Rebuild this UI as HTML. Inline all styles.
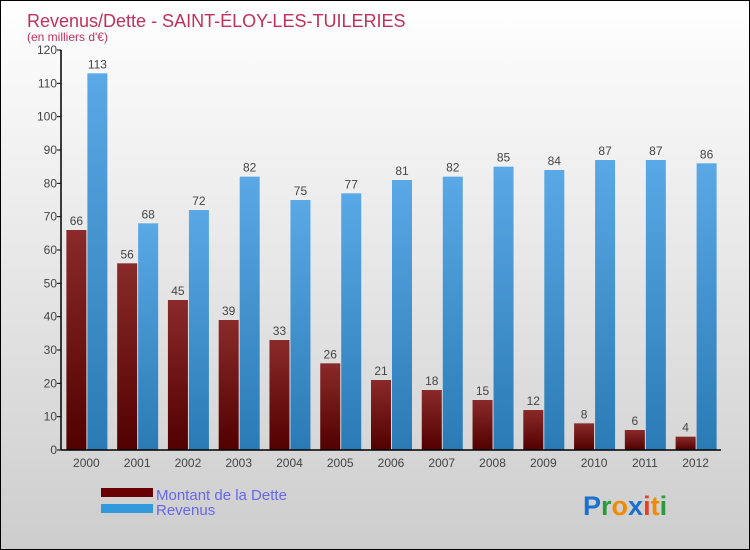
<!DOCTYPE html>
<html><head><meta charset="utf-8"><style>
body{margin:0}
#c{width:748px;height:548px;border:1px solid #000;background:linear-gradient(#fff,#cdcdcd);position:relative;overflow:hidden;font-family:"Liberation Sans",sans-serif}
</style></head><body>
<div id="c">
<svg width="748" height="548">
<defs>
<linearGradient id="gd" x1="0" y1="0" x2="0" y2="1"><stop offset="0" stop-color="#8a2a2a"/><stop offset="1" stop-color="#520000"/></linearGradient>
<linearGradient id="gr" x1="0" y1="0" x2="0" y2="1"><stop offset="0" stop-color="#5aa9e6"/><stop offset="1" stop-color="#2a7ab5"/></linearGradient>
</defs>
<text x="26" y="26" font-size="18" fill="#c0305a">Revenus/Dette - SAINT-ÉLOY-LES-TUILERIES</text>
<text x="26" y="40" font-size="12" fill="#c0305a">(en milliers d'€)</text>
<g id="plot"></g>
<rect x="100" y="487" width="52" height="9" fill="#6a0000"/>
<rect x="100" y="503" width="52" height="9" fill="#3399dd"/>
<text x="155" y="499" font-size="15" fill="#6666ee">Montant de la Dette</text>
<text x="155" y="514" font-size="15" fill="#6666ee">Revenus</text>
<text x="582" y="514" font-size="27" font-weight="bold"><tspan fill="#1a6fd0">P</tspan><tspan fill="#2a9a3a">r</tspan><tspan fill="#f08a00">o</tspan><tspan fill="#1a6fd0">x</tspan><tspan fill="#e84020">i</tspan><tspan fill="#f08a00">t</tspan><tspan fill="#2a9a3a">i</tspan></text>
</svg>
</div>
<script>
const years=["2000","2001","2002","2003","2004","2005","2006","2007","2008","2009","2010","2011","2012"];
const dette=[66,56,45,39,33,26,21,18,15,12,8,6,4];
const revenus=[113,68,72,82,75,77,81,82,85,84,87,87,86];
const yTicks=[0,10,20,30,40,50,60,70,80,90,100,110,120];
const NS="http://www.w3.org/2000/svg";
const g=document.getElementById('plot');
const x0=60,x1=720,y0=449,yTop=49,ymax=120;
const y=v=>y0-(v/ymax)*(y0-yTop);
const bw=(x1-x0)/years.length;
const cx=i=>x0+bw*(i+0.5);
function el(t,a){const e=document.createElementNS(NS,t);for(const k in a)e.setAttribute(k,a[k]);g.appendChild(e);return e;}
yTicks.forEach(v=>{
 const l=el('line',{x1:x0-4,x2:x0,y1:y(v),y2:y(v),stroke:'#000'});
 
 
 const t=el('text',{x:x0-4,y:y(v)+4,'font-size':12,'text-anchor':'end',fill:'#444'});
 t.textContent=v;
 
 
});
years.forEach((yr,i)=>{
 const c=cx(i);
 const d=el('rect',{x:c-20,y:y(dette[i]),width:20,height:y0-y(dette[i]),fill:'url(#gd)'});
 
 
 const r=el('rect',{x:c+1,y:y(revenus[i]),width:20,height:y0-y(revenus[i]),fill:'url(#gr)'});
 
 
 const dl=el('text',{x:c-10,y:y(dette[i])-5,'font-size':12,'text-anchor':'middle',fill:'#444'});
 dl.textContent=dette[i];
 
 
 const rl=el('text',{x:c+11,y:y(revenus[i])-5,'font-size':12,'text-anchor':'middle',fill:'#444'});
 rl.textContent=revenus[i];
 
 
 const xl=el('text',{x:c,y:y0+17,'font-size':12,'text-anchor':'middle',fill:'#444'});
 xl.textContent=yr;
 
 
});
const ya=el('line',{x1:x0,x2:x0,y1:yTop,y2:y0,stroke:'#000','stroke-width':1.5});


const xa=el('line',{x1:x0,x2:x1,y1:y0,y2:y0,stroke:'#000','stroke-width':1.5});


</script>
</body></html>
